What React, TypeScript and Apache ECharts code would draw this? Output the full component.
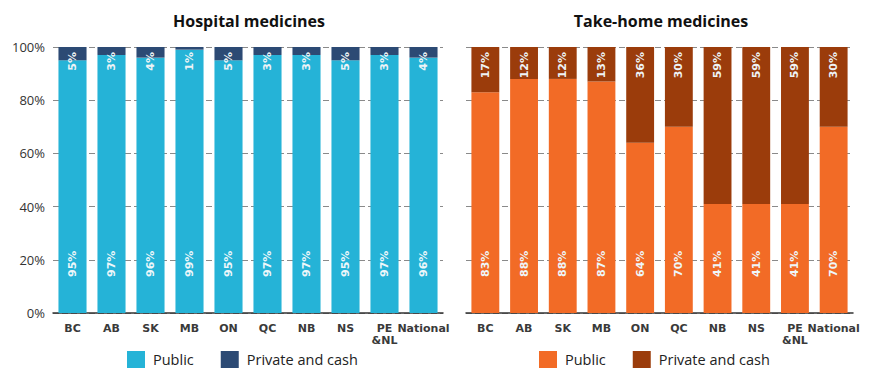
import React, { useEffect, useRef } from "react";
import * as echarts from "echarts";

const categories = ["BC", "AB", "SK", "MB", "ON", "QC", "NB", "NS", "PE\n&NL", "National"];
const hospitalPublic = [95, 97, 96, 99, 95, 97, 97, 95, 97, 96];
const hospitalPrivate = [5, 3, 4, 1, 5, 3, 3, 5, 3, 4];
const takeHomePublic = [83, 88, 88, 87, 64, 70, 41, 41, 41, 70];
const takeHomePrivate = [17, 12, 12, 13, 36, 30, 59, 59, 59, 30];
const yTicks = [0, 20, 40, 60, 80, 100];

const C = {
  hPub: "#25b3d7",
  hPriv: "#2c4a74",
  tPub: "#f26b26",
  tPriv: "#9b3c0b",
};

const labelFont = "DejaVu Sans";

function pubLabel() {
  return {
    show: true,
    position: "insideBottom",
    distance: 36,
    rotate: 90,
    align: "left",
    verticalAlign: "middle",
    color: "#eef7fa",
    fontFamily: labelFont,
    fontWeight: "bold",
    fontSize: 11,
    formatter: "{c}%",
  };
}
function privLabel() {
  return {
    show: true,
    position: "insideTop",
    distance: 5,
    rotate: 90,
    align: "right",
    verticalAlign: "middle",
    color: "#eef3f6",
    fontFamily: labelFont,
    fontWeight: "bold",
    fontSize: 11,
    formatter: "{c}%",
  };
}

export default function App() {
  const ref = useRef<HTMLDivElement>(null);
  useEffect(() => {
    if (!ref.current) return;
    const chart = echarts.init(ref.current, undefined, { renderer: "svg" });
    const xAxisBase = {
      type: "category",
      data: categories,
      axisTick: { show: false },
      axisLine: { show: true, lineStyle: { color: "#333", width: 1.5 } },
      axisLabel: {
        color: "#3a3a3a",
        fontFamily: labelFont,
        fontWeight: "bold",
        fontSize: 11,
        margin: 9,
        lineHeight: 12,
        interval: 0,
      },
    };
    const yAxisBase = {
      type: "value",
      min: 0,
      max: 100,
      interval: 20,
      axisLine: { show: false },
      axisTick: { show: false },
      splitLine: { show: true, lineStyle: { color: "#8a8a8a", type: [6, 3], width: 1.2 } },
    };
    const legendText = { fontFamily: "Open Sans", fontSize: 14.5, fontWeight: 500, color: "#222", padding: [0, 0, 0, 3] };
    chart.setOption({
      animation: false,
      textStyle: { fontFamily: "Open Sans" },
      grid: [
        { left: 53, width: 390, top: 47, height: 266 },
        { left: 466, width: 387, top: 47, height: 266 },
      ],
      xAxis: [
        { ...xAxisBase, gridIndex: 0 },
        { ...xAxisBase, gridIndex: 1 },
      ],
      yAxis: [
        {
          ...yAxisBase,
          gridIndex: 0,
          axisLabel: {
            show: true,
            color: "#333",
            fontFamily: "Open Sans",
            fontSize: 13,
            margin: 8,
            formatter: (v: number) => (yTicks.includes(v) ? v + "%" : ""),
          },
        },
        { ...yAxisBase, gridIndex: 1, axisLabel: { show: false } },
      ],
      legend: [
        {
          left: 127,
          top: 351,
          padding: 0,
          itemWidth: 18,
          itemHeight: 17,
          itemGap: 27,
          icon: "rect",
          textStyle: legendText,
          data: [
            { name: "Public", itemStyle: { color: C.hPub } },
            { name: "Private and cash", itemStyle: { color: C.hPriv } },
          ],
          selectedMode: false,
        },
        {
          left: 539,
          top: 351,
          padding: 0,
          itemWidth: 18,
          itemHeight: 17,
          itemGap: 27,
          icon: "rect",
          textStyle: legendText,
          data: [
            { name: "Public", itemStyle: { color: C.tPub } },
            { name: "Private and cash", itemStyle: { color: C.tPriv } },
          ],
          selectedMode: false,
        },
      ],
      graphic: [
        {
          type: "text",
          x: 249,
          y: 21,
          style: {
            text: "Hospital medicines",
            fill: "#111",
            font: "bold 16px 'Open Sans'",
            textAlign: "center",
            textVerticalAlign: "middle",
          },
        },
        {
          type: "text",
          x: 661,
          y: 21,
          style: {
            text: "Take-home medicines",
            fill: "#111",
            font: "bold 16px 'Open Sans'",
            textAlign: "center",
            textVerticalAlign: "middle",
          },
        },
      ],
      series: [
        {
          name: "Public",
          type: "bar",
          stack: "h",
          xAxisIndex: 0,
          yAxisIndex: 0,
          data: hospitalPublic,
          barCategoryGap: "28%",
          itemStyle: { color: C.hPub },
          label: pubLabel(),
        },
        {
          name: "Private and cash",
          type: "bar",
          stack: "h",
          xAxisIndex: 0,
          yAxisIndex: 0,
          data: hospitalPrivate,
          barCategoryGap: "28%",
          itemStyle: { color: C.hPriv },
          label: privLabel(),
        },
        {
          name: "Public",
          type: "bar",
          stack: "t",
          xAxisIndex: 1,
          yAxisIndex: 1,
          data: takeHomePublic,
          barCategoryGap: "28%",
          itemStyle: { color: C.tPub },
          label: pubLabel(),
        },
        {
          name: "Private and cash",
          type: "bar",
          stack: "t",
          xAxisIndex: 1,
          yAxisIndex: 1,
          data: takeHomePrivate,
          barCategoryGap: "28%",
          itemStyle: { color: C.tPriv },
          label: privLabel(),
        },
      ],
    });
    return () => chart.dispose();
  }, []);
  return <div ref={ref} style={{ width: 870, height: 388, position: "absolute", left: 0, top: 0 }} />;
}
